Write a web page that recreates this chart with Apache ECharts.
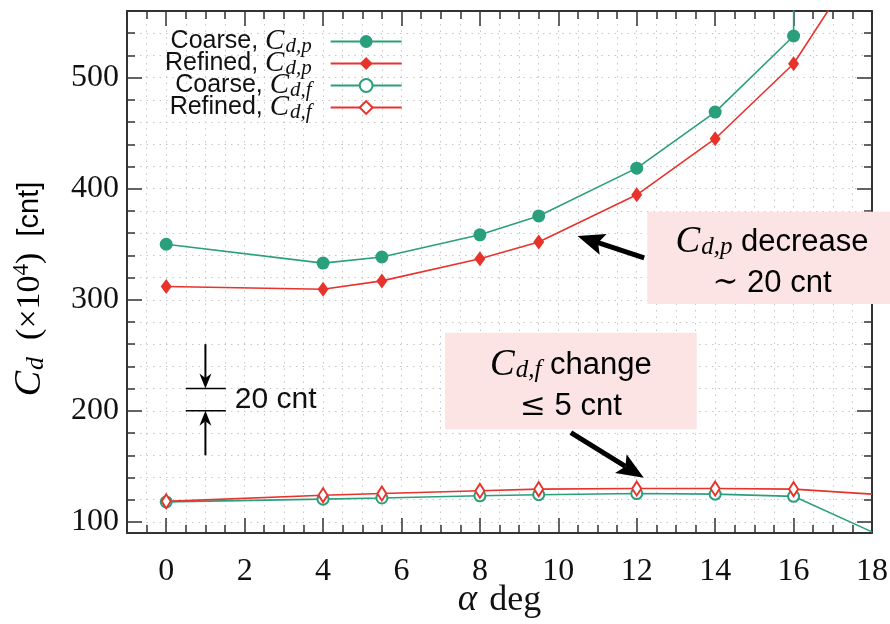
<!DOCTYPE html>
<html>
<head>
<meta charset="utf-8">
<title>Cd vs alpha</title>
<script src="https://cdn.jsdelivr.net/npm/echarts@6.0.0/dist/echarts.min.js"></script>
<style>
  html, body { margin: 0; padding: 0; background: #fff; }
  #chart { width: 890px; height: 624px; }
</style>
</head>
<body>
<div id="chart"></div>
<script>
// angle of attack [deg]
const alpha = [0, 4, 5.5, 8, 9.5, 12, 14, 16, 18];
// pressure drag, Cd x 1e4 [cnt] (coarse goes off the top after 16 deg)
const coarseCdp = [350, 333, 338.5, 358.5, 375.5, 418.5, 469, 537.5, 20000];
const refinedCdp = [312, 309.5, 317, 337, 352, 394.5, 445, 512.5, 621];
// friction drag
const coarseCdf = [118, 120.5, 121.5, 123.5, 124.5, 125.5, 125, 123, 91];
const refinedCdf = [118.5, 124, 125.5, 128, 129.5, 130, 130, 129.5, 125];

const seriesNames = ['Coarse, C_{d,p}', 'Refined, C_{d,p}', 'Coarse, C_{d,f}', 'Refined, C_{d,f}'];
const xRange = [-1, 18];
const yRange = [90, 560];
// last station is only drawn as a line end, no marker
const unmarkedAlpha = 18;

// annotations, in data units
const scaleBar = { x: [0.5, 1.52], y: [200, 220], arrowX: 1.0, from: [260, 160], labelX: 1.75, label: '20 cnt' };
const noteBoxes = [
  { x: [12.27, 18.63], y: [296.2, 379.3], sub: 'd,p', word: ' decrease', sym: '∼', rest: ' 20 cnt' },
  { x: [7.11, 13.53], y: [183.4, 270.3], sub: 'd,f', word: ' change', sym: '≤', rest: ' 5 cnt' },
];
const noteArrows = [
  { from: [12.19, 337.7], to: [10.49, 357.5] },
  { from: [10.32, 180.3], to: [12.18, 139.7] },
];

const GREEN = '#2a9f7b';
const RED = '#e8322c';
const FRAME = '#333';
const DOTS = '#c6c6c6';
const SERIF = 'Liberation Serif';
const SANS = 'Liberation Sans';

const chart = echarts.init(document.getElementById('chart'));

function lineSeries(name, ys, color, symbol, size, hollow) {
  return {
    name: name,
    type: 'line',
    data: alpha.map((a, i) => (a === unmarkedAlpha ? { value: [a, ys[i]], symbol: 'none' } : [a, ys[i]])),
    symbol: symbol,
    symbolSize: size,
    showAllSymbol: true,
    clip: true,
    animation: false,
    lineStyle: { color: color, width: 1.6 },
    itemStyle: hollow
      ? { color: color, borderColor: color, borderWidth: 1.5 }
      : { color: color, borderWidth: 0 },
    emphasis: { disabled: true },
  };
}

const dotted = { color: DOTS, width: 1, type: [1.5, 5] };

function xAxisOf(pos, main) {
  return {
    type: 'value', position: pos, min: xRange[0], max: xRange[1], splitNumber: 10,
    axisLine: { show: true, onZero: false, lineStyle: { color: FRAME, width: 2 } },
    axisTick: { inside: true, length: 15, lineStyle: { color: FRAME, width: 1.5 } },
    minorTick: { show: true, splitNumber: 4, length: 8, lineStyle: { color: FRAME, width: 1.5 } },
    splitLine: { show: main, lineStyle: dotted },
    minorSplitLine: { show: main, lineStyle: dotted },
    axisLabel: {
      show: main, showMinLabel: false, margin: 23,
      fontFamily: SERIF, fontSize: 32, color: '#111',
    },
    name: main ? '{a|α}{b|deg}' : '',
    nameLocation: 'middle', nameGap: 49, nameMoveOverlap: false,
    nameTextStyle: {
      rich: {
        a: { fontFamily: SERIF, fontStyle: 'italic', fontSize: 37, color: '#111' },
        b: { fontFamily: SERIF, fontSize: 36, color: '#111', padding: [0, 0, 0, 12] },
      },
    },
  };
}

function yAxisOf(pos, main) {
  return {
    type: 'value', position: pos, min: yRange[0], max: yRange[1], splitNumber: 5,
    axisLine: { show: true, onZero: false, lineStyle: { color: FRAME, width: 2 } },
    axisTick: { inside: true, length: 15, lineStyle: { color: FRAME, width: 1.5 } },
    minorTick: { show: true, splitNumber: 5, length: 8, lineStyle: { color: FRAME, width: 1.5 } },
    splitLine: { show: main, lineStyle: dotted },
    minorSplitLine: { show: main, lineStyle: dotted },
    axisLabel: {
      show: main, showMinLabel: false, showMaxLabel: false, margin: 8,
      fontFamily: SERIF, fontSize: 32, color: '#111',
    },
  };
}

const legendRich = {
  t: { fontFamily: SANS, fontSize: 25, color: '#111', lineHeight: 22 },
  m: { fontFamily: SERIF, fontStyle: 'italic', fontSize: 29, color: '#111', lineHeight: 22 },
  s: { fontFamily: SERIF, fontStyle: 'italic', fontSize: 21, color: '#111', lineHeight: 22, padding: [10, 14, 0, 1] },
};

const option = {
  backgroundColor: '#fff',
  animation: false,
  grid: { left: 127, right: 18, top: 11, bottom: 91, containLabel: false, outerBoundsMode: 'none' },
  xAxis: [xAxisOf('bottom', true), xAxisOf('top', false)],
  yAxis: [yAxisOf('left', true), yAxisOf('right', false)],
  legend: {
    orient: 'vertical', left: 165, top: 26, align: 'right', padding: 0,
    itemGap: -9, itemWidth: 71, itemHeight: 16,
    data: seriesNames,
    selectedMode: false,
    formatter: name => {
      const m = name.match(/^(.*)C_\{(.*)\}$/);
      return '{t|' + m[1] + '}{m|C}{s|' + m[2] + '}';
    },
    textStyle: { rich: legendRich },
  },
  series: [
    lineSeries(seriesNames[0], coarseCdp, GREEN, 'circle', 13, false),
    lineSeries(seriesNames[1], refinedCdp, RED, 'diamond', [11, 15], false),
    lineSeries(seriesNames[2], coarseCdf, GREEN, 'emptyCircle', 11, true),
    lineSeries(seriesNames[3], refinedCdf, RED, 'emptyDiamond', [9, 14], true),
  ],
};

chart.setOption(option);

// ---- annotations, placed through the axes ----
const px = (x, y) => chart.convertToPixel({ xAxisIndex: 0, yAxisIndex: 0 }, [x, y]);

function arrow(from, to, shaft, len, half, notch) {
  const dx = to[0] - from[0], dy = to[1] - from[1];
  const d = Math.hypot(dx, dy);
  const ux = dx / d, uy = dy / d, nx = -uy, ny = ux;
  const bx = to[0] - ux * len, by = to[1] - uy * len;
  const kx = to[0] - ux * len * notch, ky = to[1] - uy * len * notch;
  return [
    {
      type: 'line', z: 100,
      shape: { x1: from[0], y1: from[1], x2: kx, y2: ky },
      style: { stroke: '#000', lineWidth: shaft },
    },
    {
      type: 'polygon', z: 101,
      shape: { points: [to, [bx + nx * half, by + ny * half], [kx, ky], [bx - nx * half, by - ny * half]] },
      style: { fill: '#000' },
    },
  ];
}

const graphics = [];

// y axis title
graphics.push({
  type: 'text', x: 30, y: 289, rotation: Math.PI / 2, z: 100,
  style: {
    text: '{m|C}{s|d}{n|  (×10}{p|4}{n|)}{t|  [cnt]}',
    align: 'center', verticalAlign: 'middle',
    textAlign: 'center', textVerticalAlign: 'middle',
    rich: {
      m: { fontFamily: SERIF, fontStyle: 'italic', fontSize: 38, color: '#111' },
      s: { fontFamily: SERIF, fontStyle: 'italic', fontSize: 26, color: '#111', padding: [12, 0, 0, 1] },
      n: { fontFamily: SERIF, fontSize: 34, color: '#111' },
      p: { fontFamily: SERIF, fontSize: 23, color: '#111', padding: [0, 0, 16, 0] },
      t: { fontFamily: SANS, fontSize: 29, color: '#111' },
    },
  },
});

// pink note boxes
noteBoxes.forEach(b => {
  const p0 = px(b.x[0], b.y[1]);
  const p1 = px(b.x[1], b.y[0]);
  graphics.push({
    type: 'rect', z: 90,
    shape: { x: p0[0], y: p0[1], width: p1[0] - p0[0], height: p1[1] - p0[1] },
    style: { fill: '#fce4e4' },
  });
  graphics.push({
    type: 'text', z: 100,
    x: (p0[0] + p1[0]) / 2, y: (p0[1] + p1[1]) / 2 + 5,
    style: {
      text: '{m|C}{s|' + b.sub + '}{t|' + b.word + '}\n{r|' + b.sym + '}{t|' + b.rest + '}',
      align: 'center', verticalAlign: 'middle',
      textAlign: 'center', textVerticalAlign: 'middle',
      rich: {
        m: { fontFamily: SERIF, fontStyle: 'italic', fontSize: 37, color: '#111', lineHeight: 41 },
        s: { fontFamily: SERIF, fontStyle: 'italic', fontSize: 25, color: '#111', padding: [10, 0, 0, 1] },
        t: { fontFamily: SANS, fontSize: 31, color: '#111', lineHeight: 41 },
        r: { fontFamily: 'DejaVu Serif', fontSize: 31, color: '#111', lineHeight: 41 },
      },
    },
  });
});

noteArrows.forEach(a => {
  graphics.push(...arrow(px(a.from[0], a.from[1]), px(a.to[0], a.to[1]), 5, 27, 11, 0.8));
});

// 20 cnt scale bar
scaleBar.y.forEach(v => {
  const a = px(scaleBar.x[0], v), b = px(scaleBar.x[1], v);
  graphics.push({
    type: 'line', z: 100,
    shape: { x1: a[0], y1: a[1], x2: b[0], y2: b[1] },
    style: { stroke: '#000', lineWidth: 1.5 },
  });
});
graphics.push(...arrow(px(scaleBar.arrowX, scaleBar.from[0]), px(scaleBar.arrowX, scaleBar.y[1]), 2, 15, 6, 0.7));
graphics.push(...arrow(px(scaleBar.arrowX, scaleBar.from[1]), px(scaleBar.arrowX, scaleBar.y[0]), 2, 15, 6, 0.7));
const lab = px(scaleBar.labelX, (scaleBar.y[0] + scaleBar.y[1]) / 2);
graphics.push({
  type: 'text', z: 100, x: lab[0], y: lab[1],
  style: {
    text: scaleBar.label, fill: '#111',
    font: '30px "Liberation Sans"',
    align: 'left', verticalAlign: 'middle',
    textAlign: 'left', textVerticalAlign: 'middle',
  },
});

chart.setOption({ graphic: { elements: graphics } });
</script>
</body>
</html>
